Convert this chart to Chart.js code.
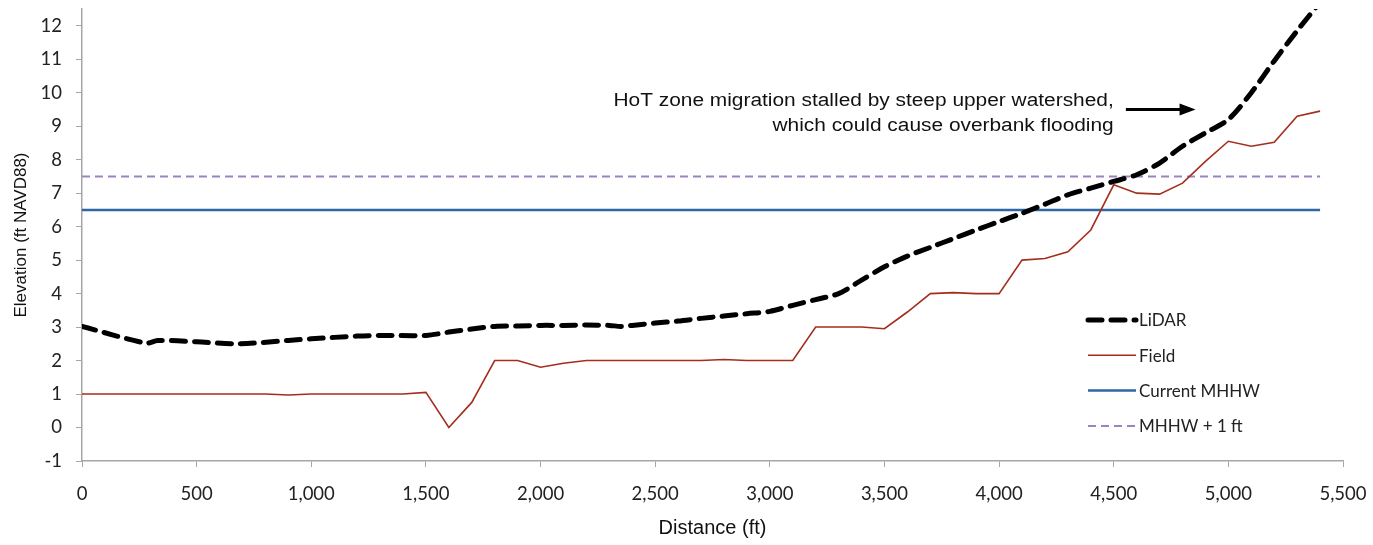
<!DOCTYPE html>
<html>
<head>
<meta charset="utf-8">
<script src="https://cdn.jsdelivr.net/npm/chart.js@4.4.0/dist/chart.umd.min.js"></script>
<style>
  html, body { margin: 0; padding: 0; background: #fff; }
  #wrap { width: 1373px; height: 545px; }
</style>
</head>
<body>
<div id="wrap"><canvas id="chart" width="1373" height="545"></canvas></div>
<script>
// distances (ft) for the field survey, every 100 ft
const fieldDist = [0,100,200,300,400,500,600,700,800,900,1000,1100,1200,1300,1400,1500,1600,1700,1800,1900,
  2000,2100,2200,2300,2400,2500,2600,2700,2800,2900,3000,3100,3200,3300,3400,3500,3600,3700,3800,3900,
  4000,4100,4200,4300,4400,4500,4600,4700,4800,4900,5000,5100,5200,5300,5400];
const fieldElev = [1,1,1,1,1,1,1,1,1,0.97,1,1,1,1,1,1.05,0,0.75,2,2,
  1.8,1.92,2,2,2,2,2,2,2.03,2,2,2,3,3,3,2.95,3.45,4,4.03,4,
  4,5,5.05,5.25,5.9,7.25,7,6.97,7.3,7.95,8.55,8.4,8.52,9.3,9.45];

// LiDAR profile
const lidarDist = [0,280,330,500,680,900,1000,1200,1300,1500,1600,1700,1800,1900,2000,2100,2200,2300,2350,2400,
  2500,2600,2700,2800,2900,3000,3100,3200,3300,3400,3500,3600,3700,3800,3900,4000,4100,4200,4300,4400,
  4500,4600,4700,4800,4900,5000,5100,5200,5300,5400];
const lidarElev = [3.02,2.52,2.6,2.56,2.5,2.6,2.65,2.73,2.75,2.75,2.85,2.94,3.02,3.03,3.05,3.05,3.06,3.05,3.02,3.05,
  3.12,3.18,3.26,3.33,3.4,3.47,3.65,3.82,4.0,4.4,4.8,5.12,5.38,5.64,5.9,6.15,6.4,6.67,6.95,7.15,
  7.35,7.55,7.9,8.4,8.8,9.2,10.0,10.95,11.85,12.7];

// tidal datums
const mhhw = 6.5;
const mhhwPlus1 = 7.5;
const datumExtent = [0, 5400];

// axis ticks
const yTicks = [-1,0,1,2,3,4,5,6,7,8,9,10,11,12];

const seriesNames = ['LiDAR', 'Field', 'Current MHHW', 'MHHW + 1 ft'];
const noteLines = ['HoT zone migration stalled by steep upper watershed,', 'which could cause overbank flooding'];

const toXY = (xs, ys) => xs.map((x, i) => ({x: x, y: ys[i]}));

// custom legend drawn inside the plot, lower right
const insideLegend = {
  id: 'insideLegend',
  afterDraw(c) {
    const ctx = c.ctx;
    const area = c.chartArea;
    const x0 = area.left + 1006;
    const y0 = 320;
    ctx.save();
    ctx.font = '17px Lato, "Open Sans", sans-serif';
    ctx.textBaseline = 'middle';
    c.data.datasets.forEach((ds, i) => {
      const y = y0 + i * 35.3;
      ctx.beginPath();
      ctx.strokeStyle = ds.borderColor;
      ctx.lineWidth = ds.borderWidth;
      ctx.lineCap = ds.borderCapStyle || 'butt';
      ctx.setLineDash(ds.borderDash || []);
      ctx.moveTo(x0, y);
      ctx.lineTo(x0 + 48, y);
      ctx.stroke();
      ctx.setLineDash([]);
      ctx.fillStyle = '#222';
      ctx.fillText(ds.label, x0 + 51, y + 1);
    });
    ctx.restore();
  }
};

// annotation text and arrow, placed in data coordinates
const note = {
  id: 'note',
  afterDraw(c) {
    const ctx = c.ctx;
    const xs = c.scales.x, ys = c.scales.y;
    const right = xs.getPixelForValue(4500);
    const stretch = 1.16;
    ctx.save();
    ctx.font = '18px "Liberation Sans", Arial, sans-serif';
    ctx.fillStyle = '#111';
    ctx.textAlign = 'right';
    ctx.textBaseline = 'middle';
    ctx.translate(right, 0);
    ctx.scale(stretch, 1);
    ctx.fillText(noteLines[0], 0, ys.getPixelForValue(9.76));
    ctx.fillText(noteLines[1], 0, ys.getPixelForValue(9.0));
    ctx.restore();
    // arrow
    const ax0 = xs.getPixelForValue(4553), ax1 = xs.getPixelForValue(4857);
    const ay = ys.getPixelForValue(9.5);
    ctx.save();
    ctx.strokeStyle = '#000';
    ctx.lineWidth = 3;
    ctx.beginPath();
    ctx.moveTo(ax0, ay);
    ctx.lineTo(ax1 - 8, ay);
    ctx.stroke();
    ctx.beginPath();
    ctx.moveTo(ax1, ay);
    ctx.lineTo(ax1 - 16, ay - 6);
    ctx.lineTo(ax1 - 16, ay + 6);
    ctx.closePath();
    ctx.fillStyle = '#000';
    ctx.fill();
    ctx.restore();
  }
};

const tickFont = { family: 'Lato, "Open Sans", sans-serif', size: 18.5 };

const chart = document.querySelector('#chart').getContext('2d');
new Chart(chart, {
  type: 'line',
  data: {
    datasets: [
      {
        label: seriesNames[0],
        data: toXY(lidarDist, lidarElev),
        borderColor: '#000000',
        borderWidth: 5,
        borderDash: [14, 9],
        borderCapStyle: 'round',
        tension: 0.3,
        pointRadius: 0
      },
      {
        label: seriesNames[1],
        data: toXY(fieldDist, fieldElev),
        borderColor: '#a52d1e',
        borderWidth: 1.6,
        pointRadius: 0
      },
      {
        label: seriesNames[2],
        data: datumExtent.map(x => ({x: x, y: mhhw})),
        borderColor: '#2f66a6',
        borderWidth: 2.5,
        pointRadius: 0
      },
      {
        label: seriesNames[3],
        data: datumExtent.map(x => ({x: x, y: mhhwPlus1})),
        borderColor: '#9b83c2',
        borderWidth: 2,
        borderDash: [8, 5],
        pointRadius: 0
      }
    ]
  },
  options: {
    responsive: false,
    animation: false,
    layout: { padding: { top: 9, right: 30, left: 0, bottom: 0 } },
    plugins: {
      legend: { display: false },
      tooltip: { enabled: false }
    },
    scales: {
      x: {
        type: 'linear',
        min: 0,
        max: 5500,
        grid: { drawOnChartArea: false, color: '#a6a6a6', tickLength: 6 },
        border: { color: '#a6a6a6', width: 1.5 },
        ticks: {
          stepSize: 500,
          color: '#222',
          font: tickFont,
          padding: 16,
          maxRotation: 0,
          callback: v => v.toLocaleString('en-US')
        },
        title: {
          display: true, text: 'Distance (ft)', color: '#111',
          font: { family: '"Liberation Sans", Arial, sans-serif', size: 20 },
          padding: { top: 0, bottom: 5 }
        },
        afterFit: axis => {
          axis.height = 84;
          axis.paddingLeft = 0;
          axis.paddingRight = 0;
        }
      },
      y: {
        min: -1,
        max: 12.5,
        grid: { drawOnChartArea: false, color: '#a6a6a6', tickLength: 6 },
        border: { color: '#a6a6a6', width: 1.5 },
        ticks: { color: '#222', font: tickFont, padding: 14 },
        afterBuildTicks: axis => { axis.ticks = yTicks.map(v => ({value: v})); },
        title: {
          display: true, text: 'Elevation (ft NAVD88)', color: '#111',
          font: { family: '"Liberation Sans", Arial, sans-serif', size: 17 },
          padding: { top: 11, bottom: 0 }
        },
        afterFit: axis => {
          axis.width = 82;
          axis.paddingTop = 0;
          axis.paddingBottom = 0;
        }
      }
    }
  },
  plugins: [insideLegend, note]
});
</script>
</body>
</html>
